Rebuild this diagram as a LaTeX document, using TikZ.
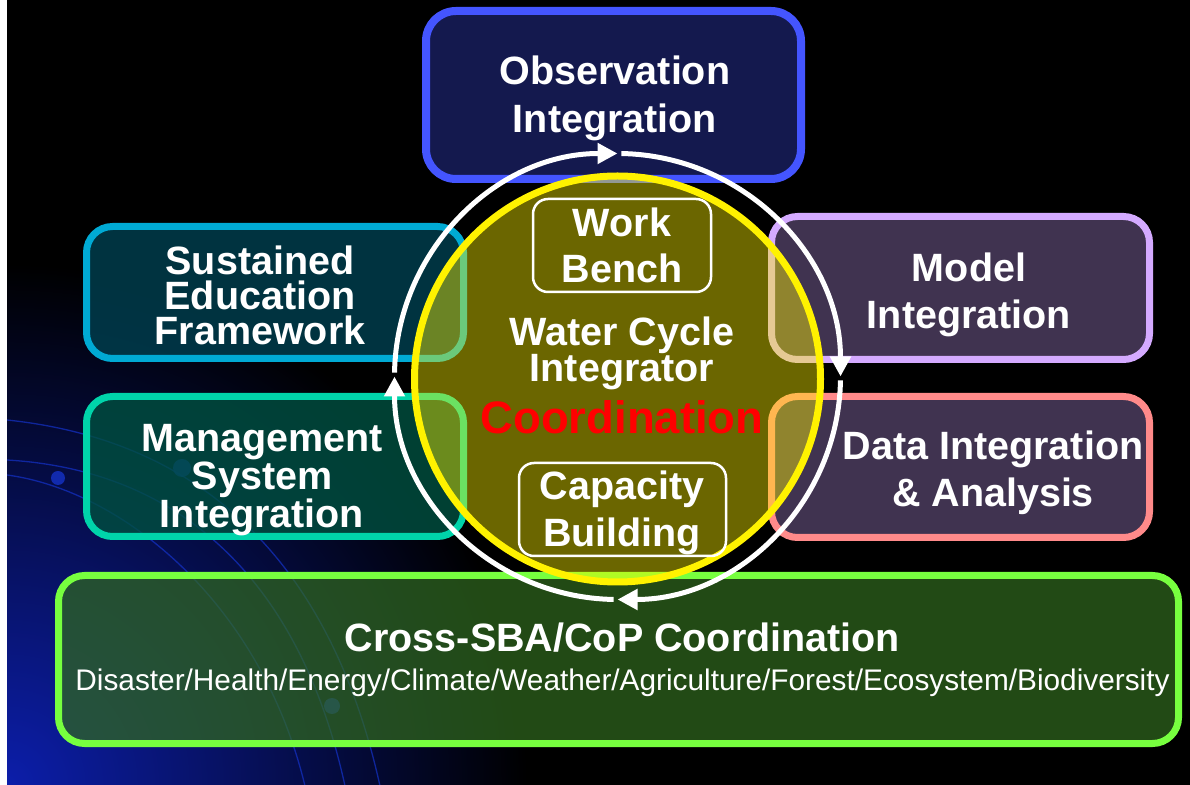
\documentclass[tikz,border=0pt]{standalone}
\usepackage{fontspec}
\setmainfont{Liberation Sans}
\usetikzlibrary{arrows.meta}
\definecolor{obsB}{HTML}{4455FF}\definecolor{obsF}{RGB}{25,32,98}
\definecolor{susB}{HTML}{00AAD4}\definecolor{susF}{RGB}{0,64,80}
\definecolor{manB}{HTML}{00D4AA}\definecolor{manF}{RGB}{0,80,64}
\definecolor{modB}{HTML}{D4AAFF}\definecolor{modF}{RGB}{81,64,100}
\definecolor{datB}{HTML}{FF8A8A}
\definecolor{croB}{HTML}{77FF3F}\definecolor{croF}{RGB}{49,106,30}
\definecolor{glow}{RGB}{12,30,170}
\definecolor{curve}{RGB}{20,50,200}
\definecolor{cfill}{RGB}{255,245,0}
\begin{document}
\begin{tikzpicture}[x=1pt,y=1pt,
  box/.style={draw, inner sep=0pt, line width=7pt, rounded corners=26pt, fill opacity=0.8, text opacity=1},
  wbox/.style={draw=white, inner sep=0pt, line width=2.5pt, rounded corners=15pt},
  lbl/.style={text=white, font=\bfseries\fontsize{39.5}{40}\selectfont, anchor=base, inner sep=0pt, text height=27pt, text depth=7pt},
  sub/.style={text=white, font=\fontsize{29.8}{30}\selectfont, anchor=base, inner sep=0pt},
  cyc/.style={white, line width=5pt, -{Triangle[length=20pt,width=20pt]}}]
\useasboundingbox (0,0) rectangle (1190,784);
% background
\fill[black] (-2,-2) rectangle (1192,786);
\fill[white] (-2,-2) rectangle (7,786);
\begin{scope}
  \clip (7,-2) rectangle (1192,786);
  \shade[inner color=glow, outer color=black] (7,0) circle (520);
  \draw[curve, line width=1.3pt, opacity=0.7] (7,364) .. controls (200,344) and (330,224) .. (380,-2);
  \draw[curve, line width=1.3pt, opacity=0.7] (7,324) .. controls (180,314) and (300,204) .. (345,-2);
  \draw[curve, line width=1.3pt, opacity=0.7] (7,309) .. controls (120,294) and (260,184) .. (305,-2);
  \fill[curve, opacity=0.8] (58,306) circle (7);
  \fill[curve, opacity=0.8] (182,316) circle (9);
  \fill[curve, opacity=0.8] (332,78) circle (8);
\end{scope}
% outer boxes
\node[box, draw=obsB, fill=obsF, line width=8pt, rounded corners=30pt, minimum width=375pt, minimum height=168pt] (obs) at (613.5,689) {};
\node[box, draw=susB, fill=susF, minimum width=377pt, minimum height=132pt] (sus) at (275,491.5) {};
\node[box, draw=manB, fill=manF, minimum width=377pt, minimum height=140pt] (man) at (275,317.5) {};
\node[box, draw=modB, fill=modF, minimum width=378pt, minimum height=143pt] (mod) at (960.5,496) {};
\node[box, draw=datB, fill=modF, minimum width=378pt, minimum height=141pt] (dat) at (960.5,317) {};
\node[box, draw=croB, fill=croF, fill opacity=0.7, minimum width=1120pt, minimum height=168pt] (cro) at (618.5,124.5) {};
% box labels
\node[lbl] (obs1) at (615,699) {Observation};
\node[lbl] (obs2) at (615,651) {Integration};
\node[lbl] (sus1) at (260,509) {Sustained};
\node[lbl] (sus2) at (260,474) {Education};
\node[lbl] (sus3) at (260,439) {Framework};
\node[lbl] (man1) at (262,332) {Management};
\node[lbl] (man2) at (262,294) {System};
\node[lbl] (man3) at (262,256) {Integration};
\node[lbl] (mod1) at (969,502) {Model};
\node[lbl] (mod2) at (969,455) {Integration};
\node[lbl] (dat1) at (993,324) {Data Integration};
\node[lbl] (dat2) at (993,277) {\& Analysis};
\node[lbl] (cro1) at (622.5,132) {Cross-SBA/CoP Coordination};
\node[sub] (cro2) at (622.5,94) {Disaster/Health/Energy/Climate/Weather/Agriculture/Forest/Ecosystem/Biodiversity};
% central circle
\fill[cfill, opacity=0.42] (617.5,405) circle (203);
\draw[yellow, line width=7pt] (617.5,405) circle (203) node (wci) {};
% cycle arrows
\coordinate (c) at (617.5,407.5);
\draw[cyc] ([shift={(179:223)}]c) arc[start angle=179, end angle=90, radius=223];
\draw[cyc] ([shift={(89:223)}]c) arc[start angle=89, end angle=0, radius=223];
\draw[cyc] ([shift={(-1:223)}]c) arc[start angle=-1, end angle=-90, radius=223];
\draw[cyc] ([shift={(-91:223)}]c) arc[start angle=-91, end angle=-180, radius=223];
% inner boxes
\node[wbox, minimum width=178pt, minimum height=93pt] (wb) at (622,538.5) {};
\node[wbox, minimum width=207pt, minimum height=93pt] (cb) at (622.5,274.5) {};
\node[lbl] (wb1) at (622,547) {Work};
\node[lbl] (wb2) at (622,501) {Bench};
\node[lbl] (wc1) at (622,438) {Water Cycle};
\node[lbl] (wc2) at (622,402) {Integrator};
\node[lbl, text=red, font=\bfseries\fontsize{45.5}{46}\selectfont] (coord) at (622,350) {Coordination};
\node[lbl] (cb1) at (622,284) {Capacity};
\node[lbl] (cb2) at (622,237) {Building};
\end{tikzpicture}
\end{document}
